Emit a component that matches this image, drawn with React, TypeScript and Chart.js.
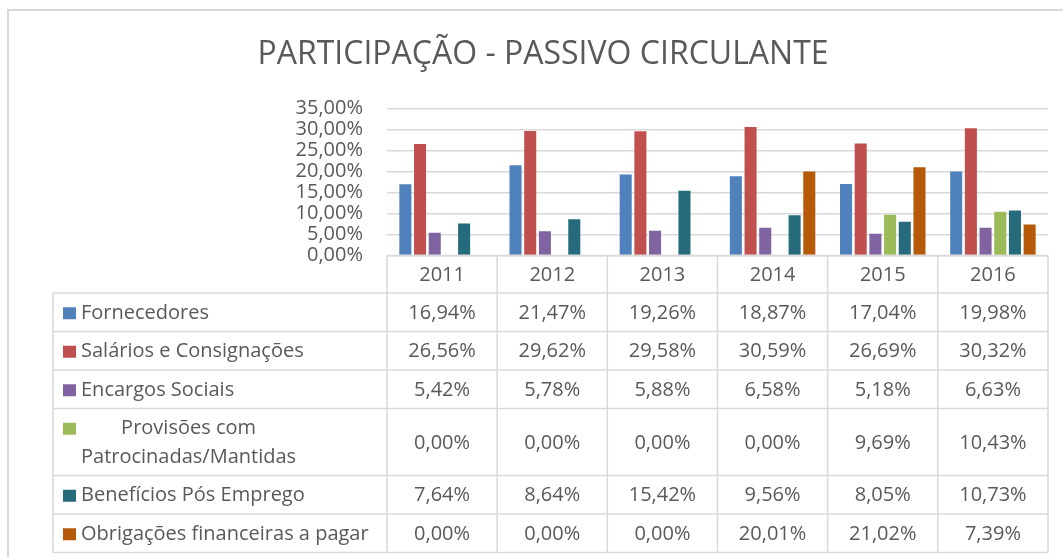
import React, { useEffect, useRef } from 'react';
import { Chart, registerables } from 'chart.js';

Chart.register(...registerables);

const chartTitle = 'PARTICIPAÇÃO - PASSIVO CIRCULANTE';
const years = ['2011', '2012', '2013', '2014', '2015', '2016'];
const seriesNames = [
  'Fornecedores',
  'Salários e Consignações',
  'Encargos Sociais',
  'Provisões com Patrocinadas/Mantidas',
  'Benefícios Pós Emprego',
  'Obrigações financeiras a pagar',
];
const fornecedores = [16.94, 21.47, 19.26, 18.87, 17.04, 19.98];
const salarios = [26.56, 29.62, 29.58, 30.59, 26.69, 30.32];
const encargos = [5.42, 5.78, 5.88, 6.58, 5.18, 6.63];
const provisoes = [0, 0, 0, 0, 9.69, 10.43];
const beneficios = [7.64, 8.64, 15.42, 9.56, 8.05, 10.73];
const obrigacoes = [0, 0, 0, 20.01, 21.02, 7.39];
const seriesValues = [fornecedores, salarios, encargos, provisoes, beneficios, obrigacoes];
const seriesColors = ['#4F81BD', '#C0504D', '#8064A2', '#9BBB59', '#256B7B', '#B65A0A'];
const yMin = 0;
const yMax = 35;
const yStep = 5;

const FONT = '"Open Sans", "DejaVu Sans", sans-serif';
const fmt = (v: number) => v.toFixed(2).replace('.', ',') + '%';

const tablePlugin = {
  id: 'dataTable',
  afterDraw(chart: any) {
    const ctx: CanvasRenderingContext2D = chart.ctx;
    const ca = chart.chartArea;
    const xs = chart.scales.x;
    const n = years.length;
    const colW = (ca.right - ca.left) / n;
    const line = '#D9D9D9';
    const textColor = '#595959';

    ctx.save();
    // outer chart border
    ctx.strokeStyle = line;
    ctx.lineWidth = 2;
    ctx.beginPath();
    ctx.moveTo(8, 600);
    ctx.lineTo(8, 10);
    ctx.lineTo(1100, 10);
    ctx.stroke();

    // title
    ctx.fillStyle = textColor;
    ctx.font = `32px ${FONT}`;
    ctx.textAlign = 'center';
    ctx.textBaseline = 'middle';
    ctx.fillText(chartTitle, 543, 55);

    // table geometry
    ctx.font = `20px ${FONT}`;
    const tableLeft = 53;
    const labelX = 81;
    const labelMax = ca.left - labelX - 4;
    const headerTop = ca.bottom;
    const headerH = 37.5;
    const baseRowH = 38.5;
    const extraLineH = 28.5;

    const wrap = (s: string) => {
      const words = s.split(' ');
      const lines: string[] = [];
      let cur = '';
      for (const w of words) {
        const t = cur ? cur + ' ' + w : w;
        if (cur && ctx.measureText(t).width > labelMax) {
          lines.push(cur);
          cur = w;
        } else cur = t;
      }
      if (cur) lines.push(cur);
      return lines;
    };

    const rows = seriesNames.map((name) => {
      const lines = wrap(name);
      return { lines, h: baseRowH + (lines.length - 1) * extraLineH };
    });

    const tops: number[] = [];
    let y = headerTop + headerH;
    for (const r of rows) {
      tops.push(y);
      y += r.h;
    }
    const bottom = y;

    // lines
    ctx.strokeStyle = line;
    ctx.lineWidth = 1.5;
    ctx.beginPath();
    ctx.moveTo(ca.left, headerTop);
    ctx.lineTo(ca.right, headerTop);
    for (const t of tops) {
      ctx.moveTo(tableLeft, t);
      ctx.lineTo(ca.right, t);
    }
    ctx.moveTo(tableLeft, bottom);
    ctx.lineTo(ca.right, bottom);
    ctx.moveTo(tableLeft, tops[0]);
    ctx.lineTo(tableLeft, bottom);
    for (let i = 0; i <= n; i++) {
      const x = ca.left + i * colW;
      ctx.moveTo(x, headerTop);
      ctx.lineTo(x, bottom);
    }
    ctx.stroke();

    // header
    ctx.fillStyle = textColor;
    ctx.textAlign = 'center';
    ctx.textBaseline = 'middle';
    years.forEach((yr, i) => {
      ctx.fillText(yr, xs.getPixelForValue(i), headerTop + headerH / 2 + 1);
    });

    // rows
    rows.forEach((r, ri) => {
      const top = tops[ri];
      const cy = top + r.h / 2 + 1;
      const firstLineY = cy - ((r.lines.length - 1) * extraLineH) / 2;
      // legend key
      ctx.fillStyle = seriesColors[ri];
      ctx.fillRect(63, firstLineY - 6, 13, 12);
      // label
      ctx.fillStyle = textColor;
      if (r.lines.length === 1) {
        ctx.textAlign = 'left';
        ctx.fillText(r.lines[0], labelX, cy);
      } else {
        const maxW = Math.max(...r.lines.map((l) => ctx.measureText(l).width));
        ctx.textAlign = 'center';
        r.lines.forEach((l, li) => {
          ctx.fillText(l, labelX + maxW / 2, firstLineY + li * extraLineH);
        });
      }
      // values
      ctx.textAlign = 'center';
      seriesValues[ri].forEach((v, i) => {
        ctx.fillText(fmt(v), xs.getPixelForValue(i), cy);
      });
    });
    ctx.restore();
  },
};

export default function App() {
  const canvasRef = useRef<HTMLCanvasElement | null>(null);

  useEffect(() => {
    let chart: Chart | null = null;
    let cancelled = false;
    const create = () => {
      if (cancelled || !canvasRef.current) return;
      chart = new Chart(canvasRef.current, {
        type: 'bar',
        data: {
          labels: years,
          datasets: seriesNames.map((name, i) => ({
            label: name,
            data: seriesValues[i],
            backgroundColor: seriesColors[i],
            categoryPercentage: 0.8,
            barPercentage: 0.82,
          })),
        },
        options: {
          responsive: false,
          animation: false,
          layout: { padding: { top: 108.5, bottom: 301.5, left: 0, right: 15 } },
          plugins: {
            legend: { display: false },
            title: { display: false },
            tooltip: { enabled: false },
          },
          scales: {
            x: { type: 'category', display: false, grid: { display: false } },
            y: {
              min: yMin,
              max: yMax,
              afterFit: (s: any) => {
                s.width = 387;
              },
              border: { display: false },
              grid: { color: '#D9D9D9', lineWidth: 1.5, drawTicks: false },
              ticks: {
                stepSize: yStep,
                autoSkip: false,
                padding: 24,
                color: '#595959',
                font: { family: FONT, size: 20 },
                callback: (v: any) => fmt(Number(v)),
              },
            },
          },
        },
        plugins: [tablePlugin],
      });
    };
    const fontsApi = (document as any).fonts;
    if (fontsApi && fontsApi.load) {
      Promise.all([fontsApi.load(`20px ${FONT}`), fontsApi.load(`32px ${FONT}`)])
        .catch(() => null)
        .then(create);
    } else create();
    return () => {
      cancelled = true;
      if (chart) chart.destroy();
    };
  }, []);

  return (
    <div style={{ position: 'fixed', left: 0, top: 0, width: 1063, height: 557, background: '#fff' }}>
      <canvas ref={canvasRef} width={1063} height={557} />
    </div>
  );
}
